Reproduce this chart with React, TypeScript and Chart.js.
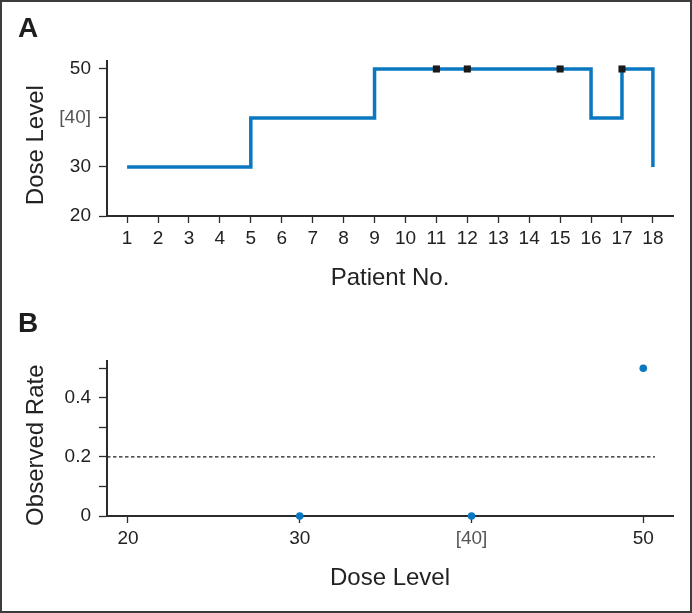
import React, { useEffect, useRef } from 'react';
import { Chart, registerables } from 'chart.js';

Chart.register(...registerables);

// ---- Data (panel A) ----
const patients = [1, 2, 3, 4, 5, 6, 7, 8, 9, 10, 11, 12, 13, 14, 15, 16, 17, 18];
const doseLevels = [30, 30, 30, 30, 40, 40, 40, 40, 50, 50, 50, 50, 50, 50, 50, 40, 50, 30];
const toxicPatients = [11, 12, 15, 17];
const toxicDoses = [50, 50, 50, 50];
const doseTicksA = [20, 30, 40, 50];

// ---- Data (panel B) ----
const observedDoses = [30, 40, 50];
const observedRates = [0, 0, 0.5];
const targetRate = 0.2;
const targetLineDoses = [18.78, 50.68];
const rateTicks = [0, 0.1, 0.2, 0.3, 0.4, 0.5];
const rateTickLabels = ['0', '', '0.2', '', '0.4', ''];
const doseTicksB = [20, 30, 40, 50];

const doseLabel = (v: number) => (v === 40 ? '[40]' : String(v));

const FONT = "'Liberation Sans', Arial, Helvetica, sans-serif";
const BLUE = '#0a78c0';
const AXIS = '#2b2b2b';
const TEXT = '#222222';

function yScale(min: number, max: number, ticks: number[], label: (v: number, i: number) => string, title: string) {
  return {
    type: 'linear',
    min,
    max,
    afterBuildTicks: (s: any) => {
      s.ticks = ticks.map((v) => ({ value: v }));
    },
    afterFit: (s: any) => {
      s.width = 107;
    },
    ticks: {
      font: { family: FONT, size: 19 },
      color: (c: any) => (c.tick && c.tick.value === 40 && min === 20 ? '#555555' : TEXT),
      padding: 8,
      autoSkip: false,
      callback: (v: any, i: number) => label(Number(v), i),
    },
    grid: { drawOnChartArea: false, drawTicks: true, tickLength: 8, tickColor: AXIS, tickWidth: 1.3 },
    border: { display: true, color: AXIS, width: 2 },
    // trailing spaces nudge the rotated title slightly downward, as in the reference
    title: { display: true, text: title + '  ', font: { family: FONT, size: 24 }, color: TEXT, padding: { top: 22 } },
  };
}

function xScale(min: number, max: number, ticks: number[], label: (v: number) => string, title: string) {
  return {
    type: 'linear',
    min,
    max,
    afterBuildTicks: (s: any) => {
      s.ticks = ticks.map((v) => ({ value: v }));
    },
    afterFit: (s: any) => {
      s.height = 84;
    },
    ticks: {
      font: { family: FONT, size: 19 },
      color: (c: any) => (c.tick && c.tick.value === 40 && min > 10 ? '#555555' : TEXT),
      padding: 4,
      autoSkip: false,
      maxRotation: 0,
      callback: (v: any) => label(Number(v)),
    },
    grid: { drawOnChartArea: false, drawTicks: true, tickLength: 7, tickColor: AXIS, tickWidth: 1.3 },
    border: { display: true, color: AXIS, width: 2 },
    title: { display: true, text: title, font: { family: FONT, size: 24 }, color: TEXT, padding: { bottom: 7 } },
  };
}

const commonOptions = {
  responsive: false,
  animation: false,
  devicePixelRatio: 1,
  layout: { padding: { top: 61, right: 19, left: 0, bottom: 0 } },
  plugins: { legend: { display: false }, tooltip: { enabled: false } },
  events: [],
};

export default function App() {
  const refA = useRef<HTMLCanvasElement>(null);
  const refB = useRef<HTMLCanvasElement>(null);

  useEffect(() => {
    const chartA = new Chart(refA.current as HTMLCanvasElement, {
      type: 'scatter',
      data: {
        datasets: [
          {
            data: toxicPatients.map((p, i) => ({ x: p, y: toxicDoses[i] })),
            pointStyle: 'rect',
            pointRadius: 5,
            pointBackgroundColor: '#1a1a1a',
            pointBorderWidth: 0,
            clip: false,
          } as any,
          {
            data: patients.map((p, i) => ({ x: p, y: doseLevels[i] })),
            showLine: true,
            stepped: true,
            borderColor: BLUE,
            borderWidth: 3.5,
            borderJoinStyle: 'miter',
            borderCapStyle: 'butt',
            pointRadius: 0,
            fill: false,
            clip: false,
          } as any,
        ],
      },
      options: {
        ...commonOptions,
        scales: {
          x: xScale(0.35, 18.65, patients, (v) => String(v), 'Patient No.'),
          y: yScale(20, 51.63, doseTicksA, (v) => doseLabel(v), 'Dose Level'),
        },
      } as any,
    });

    const chartB = new Chart(refB.current as HTMLCanvasElement, {
      type: 'scatter',
      data: {
        datasets: [
          {
            data: observedDoses.map((d, i) => ({ x: d, y: observedRates[i] })),
            pointRadius: 3.8,
            pointBackgroundColor: BLUE,
            pointBorderWidth: 0,
            clip: false,
          } as any,
          {
            data: targetLineDoses.map((d) => ({ x: d, y: targetRate })),
            showLine: true,
            borderColor: '#1e1e1e',
            borderWidth: 1.2,
            borderDash: [3.5, 2.5],
            pointRadius: 0,
            fill: false,
            clip: false,
          } as any,
        ],
      },
      options: {
        ...commonOptions,
        scales: {
          x: xScale(18.78, 51.73, doseTicksB, (v) => doseLabel(v), 'Dose Level'),
          y: yScale(0, 0.5246, rateTicks, (_v, i) => rateTickLabels[i] ?? '', 'Observed Rate'),
        },
      } as any,
    });

    return () => {
      chartA.destroy();
      chartB.destroy();
    };
  }, []);

  const letter: React.CSSProperties = {
    position: 'absolute',
    left: 18,
    fontFamily: FONT,
    fontWeight: 'bold',
    fontSize: 28,
    lineHeight: '28px',
    color: '#1e1e1e',
  };

  return (
    <div style={{ position: 'absolute', left: 0, top: 0, width: 692, height: 613, background: '#fff' }}>
      <canvas ref={refA} width={692} height={300} style={{ position: 'absolute', left: 0, top: 0, width: 692, height: 300 }} />
      <canvas ref={refB} width={692} height={300} style={{ position: 'absolute', left: 0, top: 300, width: 692, height: 300 }} />
      <div style={{ ...letter, top: 14 }}>A</div>
      <div style={{ ...letter, top: 309 }}>B</div>
      <div
        style={{
          position: 'absolute',
          left: 0,
          top: 0,
          width: 692,
          height: 613,
          boxSizing: 'border-box',
          border: '2px solid #3c3c3c',
          pointerEvents: 'none',
        }}
      />
    </div>
  );
}
